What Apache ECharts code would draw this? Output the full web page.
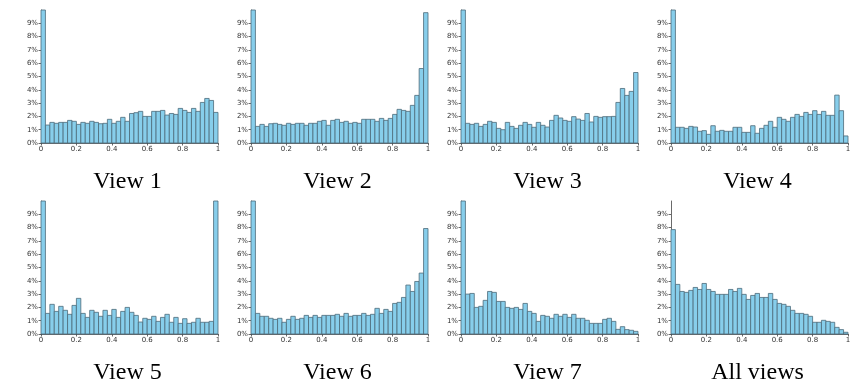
<!DOCTYPE html>
<html>
<head>
<meta charset="utf-8">
<script src="https://cdn.jsdelivr.net/npm/echarts@6/dist/echarts.min.js"></script>
<style>
html,body{margin:0;padding:0;background:#fff;}
#chart{width:854px;height:385px;}
</style>
</head>
<body>
<div id="chart"></div>
<script>
// Histogram bins: 40 bins over [0, 1]; values are percentages
const binCount = 40;
const titles = ["View 1", "View 2", "View 3", "View 4", "View 5", "View 6", "View 7", "All views"];
const xTickLabels = ["0", "0.2", "0.4", "0.6", "0.8", "1"];
const yTickValues = [0, 1, 2, 3, 4, 5, 6, 7, 8, 9];

const view1 = [15, 1.35, 1.55, 1.48, 1.55, 1.55, 1.7, 1.63, 1.4, 1.55, 1.48, 1.63, 1.55, 1.45, 1.48, 1.78, 1.48, 1.63, 1.93, 1.63,
  2.22, 2.28, 2.38, 2.0, 2.0, 2.38, 2.38, 2.45, 2.1, 2.22, 2.15, 2.6, 2.45, 2.3, 2.6, 2.38, 3.05, 3.35, 3.2, 2.3];
const view2 = [15, 1.25, 1.4, 1.25, 1.45, 1.48, 1.4, 1.33, 1.48, 1.4, 1.48, 1.48, 1.33, 1.48, 1.48, 1.63, 1.7, 1.33, 1.7, 1.78,
  1.55, 1.63, 1.48, 1.55, 1.48, 1.78, 1.78, 1.78, 1.63, 1.85, 1.7, 1.85, 2.15, 2.53, 2.45, 2.38, 2.83, 3.58, 5.6, 9.8];
const view3 = [15, 1.48, 1.4, 1.48, 1.25, 1.4, 1.63, 1.55, 1.1, 1.0, 1.55, 1.25, 1.1, 1.33, 1.55, 1.4, 1.18, 1.55, 1.33, 1.2,
  1.7, 2.08, 1.88, 1.7, 1.63, 1.98, 1.8, 1.7, 2.22, 1.58, 2.0, 1.93, 1.98, 1.98, 2.0, 3.05, 4.1, 3.58, 3.88, 5.3];
const view4 = [15, 1.18, 1.18, 1.1, 1.25, 1.2, 0.88, 0.93, 0.65, 1.3, 0.88, 0.95, 0.88, 0.88, 1.18, 1.18, 0.8, 0.8, 1.3, 0.73,
  1.1, 1.33, 1.63, 1.18, 1.93, 1.78, 1.63, 1.93, 2.15, 2.0, 2.3, 2.15, 2.43, 2.15, 2.38, 2.08, 2.08, 3.6, 2.43, 0.53];
const view5 = [15, 1.55, 2.23, 1.7, 2.08, 1.78, 1.48, 2.15, 2.68, 1.55, 1.25, 1.78, 1.63, 1.33, 1.78, 1.4, 1.85, 1.25, 1.7, 2.0,
  1.63, 1.4, 0.9, 1.18, 1.1, 1.33, 0.95, 1.25, 1.48, 0.88, 1.25, 0.8, 1.15, 0.8, 0.88, 1.18, 0.88, 0.88, 0.95, 15];
const view6 = [15, 1.55, 1.33, 1.33, 1.18, 1.1, 1.18, 0.88, 1.1, 1.33, 1.1, 1.18, 1.4, 1.25, 1.4, 1.25, 1.4, 1.4, 1.4, 1.48,
  1.33, 1.55, 1.33, 1.4, 1.4, 1.55, 1.4, 1.48, 1.93, 1.55, 1.85, 1.7, 2.3, 2.38, 2.75, 3.68, 3.2, 3.95, 4.58, 7.93];
const view7 = [15, 3.0, 3.05, 2.0, 2.08, 2.53, 3.2, 3.13, 2.45, 2.45, 2.0, 1.93, 2.0, 1.85, 2.3, 1.7, 1.55, 0.95, 1.4, 1.33,
  1.18, 1.48, 1.33, 1.48, 1.25, 1.48, 1.18, 1.18, 1.03, 0.8, 0.8, 0.8, 1.1, 1.18, 0.95, 0.35, 0.55, 0.33, 0.28, 0.2];
const allViews = [7.85, 3.73, 3.2, 3.13, 3.28, 3.5, 3.35, 3.8, 3.35, 3.2, 2.98, 2.98, 2.98, 3.35, 3.2, 3.43, 2.98, 2.6, 2.9, 3.05,
  2.75, 2.75, 3.05, 2.6, 2.3, 2.23, 2.08, 1.78, 1.55, 1.55, 1.48, 1.33, 0.88, 0.88, 1.03, 0.95, 0.88, 0.5, 0.33, 0.13];

const seriesValues = [view1, view2, view3, view4, view5, view6, view7, allViews];

const chart = echarts.init(document.getElementById('chart'), null, {renderer: 'canvas'});

const colLefts = [41, 251, 461, 671];
const rowTops = [10, 201];
const plotW = 177, plotH = 133;

const grids = [], xAxes = [], yAxes = [], series = [], titleList = [];
const axisColor = '#444';
const labelColor = '#333';

seriesValues.forEach((vals, k) => {
  const col = k % 4, row = Math.floor(k / 4);
  grids.push({left: colLefts[col], top: rowTops[row], width: plotW, height: plotH, containLabel: false});
  xAxes.push({
    type: 'value', gridIndex: k, min: 0, max: 1, interval: 0.2,
    axisLine: {show: true, onZero: false, lineStyle: {color: axisColor, width: 0.8}},
    axisTick: {show: true, length: 2.5, lineStyle: {color: axisColor, width: 0.8}},
    axisLabel: {show: true, fontSize: 7, color: labelColor, margin: 3, fontFamily: 'DejaVu Sans',
      formatter: v => xTickLabels[Math.round(v / 0.2)]},
    splitLine: {show: false}
  });
  yAxes.push({
    type: 'value', gridIndex: k, min: 0, max: 10, interval: 1,
    axisLine: {show: true, lineStyle: {color: axisColor, width: 0.8}},
    axisTick: {show: true, length: 2.5, customValues: yTickValues, lineStyle: {color: axisColor, width: 0.8}},
    axisLabel: {show: true, fontSize: 7, color: labelColor, margin: 3, fontFamily: 'DejaVu Sans',
      customValues: yTickValues, formatter: v => v + '%'},
    splitLine: {show: false}
  });
  const data = vals.map((v, i) => [i / binCount, (i + 1) / binCount, v]);
  series.push({
    type: 'custom', xAxisIndex: k, yAxisIndex: k, data: data,
    renderItem: function (params, api) {
      const p0 = api.coord([api.value(0), 0]);
      const p1 = api.coord([api.value(1), api.value(2)]);
      const rect = {x: p0[0], y: p1[1], width: p1[0] - p0[0], height: p0[1] - p1[1]};
      const cs = params.coordSys;
      const clipped = echarts.graphic.clipRectByRect(rect, {x: cs.x, y: cs.y, width: cs.width, height: cs.height});
      return clipped && {
        type: 'rect', shape: clipped,
        style: {fill: '#87CEEB', stroke: '#4d6b7a', lineWidth: 0.8}
      };
    },
    animation: false
  });
  titleList.push({
    text: titles[k], left: colLefts[col] + plotW / 2 - 7, top: row === 0 ? 165 : 356,
    textAlign: 'center',
    textStyle: {fontFamily: 'Liberation Serif', fontSize: 24, fontWeight: 'normal', color: '#000'}
  });
});

chart.setOption({
  animation: false,
  title: titleList,
  grid: grids,
  xAxis: xAxes,
  yAxis: yAxes,
  series: series
});
</script>
</body>
</html>
